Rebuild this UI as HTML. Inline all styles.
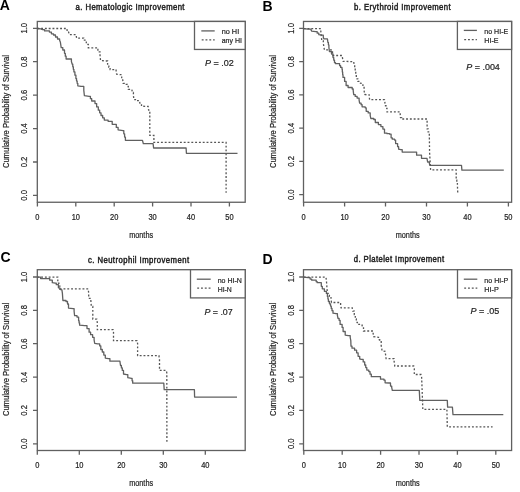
<!DOCTYPE html>
<html><head><meta charset="utf-8"><style>
html,body{margin:0;padding:0;background:#fff;width:520px;height:492px;overflow:hidden}
svg{display:block;will-change:transform}
text{font-family:"Liberation Sans",sans-serif;fill:#222;stroke:#222;stroke-width:0.2px}
.t{font-size:8.3px}
.ttl{font-size:8.4px;font-weight:normal;stroke-width:0.45px;fill:#222;stroke:#222}
.let{font-size:14px;font-weight:bold;fill:#000;stroke:none}
</style></head><body>
<svg width="520" height="492" viewBox="0 0 520 492">
<rect width="520" height="492" fill="#fff"/>
<g id="pA">
<rect x="37.3" y="21.45" width="207.9" height="180.8" fill="none" stroke="#606060" stroke-width="1.3"/>
<text class="t" transform="translate(27.2,195.40) rotate(-90) scale(0.92,1)" text-anchor="middle">0.0</text>
<text class="t" transform="translate(27.2,161.98) rotate(-90) scale(0.92,1)" text-anchor="middle">0.2</text>
<text class="t" transform="translate(27.2,128.56) rotate(-90) scale(0.92,1)" text-anchor="middle">0.4</text>
<text class="t" transform="translate(27.2,95.14) rotate(-90) scale(0.92,1)" text-anchor="middle">0.6</text>
<text class="t" transform="translate(27.2,61.72) rotate(-90) scale(0.92,1)" text-anchor="middle">0.8</text>
<text class="t" transform="translate(27.2,28.30) rotate(-90) scale(0.92,1)" text-anchor="middle">1.0</text>
<text class="t" transform="translate(37.40,219.8) scale(0.9,1)" text-anchor="middle">0</text>
<text class="t" transform="translate(75.80,219.8) scale(0.9,1)" text-anchor="middle">10</text>
<text class="t" transform="translate(114.20,219.8) scale(0.9,1)" text-anchor="middle">20</text>
<text class="t" transform="translate(152.60,219.8) scale(0.9,1)" text-anchor="middle">30</text>
<text class="t" transform="translate(191.00,219.8) scale(0.9,1)" text-anchor="middle">40</text>
<text class="t" transform="translate(229.40,219.8) scale(0.9,1)" text-anchor="middle">50</text>
<path d="M33.0,195.4H37.3M33.0,162.0H37.3M33.0,128.6H37.3M33.0,95.1H37.3M33.0,61.7H37.3M33.0,28.3H37.3M37.4,202.2V206.5M75.8,202.2V206.5M114.2,202.2V206.5M152.6,202.2V206.5M191.0,202.2V206.5M229.4,202.2V206.5" stroke="#606060" stroke-width="1.3" fill="none"/>
<text class="t" x="141.15" y="237.8" text-anchor="middle" textLength="23.9" lengthAdjust="spacingAndGlyphs" style="font-size:8.8px">months</text>
<text transform="translate(8.9,111.6) rotate(-90)" text-anchor="middle" textLength="113.0" lengthAdjust="spacingAndGlyphs" style="font-size:8.3px">Cumulative Probability of Survival</text>
<rect x="194.5" y="21.45" width="50.7" height="28.0" fill="#fff" stroke="#606060" stroke-width="1.3"/>
<path d="M201.3,30.9H214.7" stroke="#606060" stroke-width="1.3"/>
<path d="M201.7,39.9H214.7" stroke="#555" stroke-width="1.3" stroke-dasharray="1.9,1.9"/>
<text class="t" x="221.7" y="33.9" textLength="17.5" lengthAdjust="spacingAndGlyphs" style="font-size:8.1px">no HI</text>
<text class="t" x="221.7" y="43.2" textLength="20.2" lengthAdjust="spacingAndGlyphs" style="font-size:8.1px">any HI</text>
<text x="205.1" y="65.6" textLength="28.8" lengthAdjust="spacingAndGlyphs" style="font-size:9px"><tspan font-style="italic">P</tspan> = .02</text>
<text class="ttl" transform="translate(75.6,9.6) scale(0.92,1)" textLength="118.4" lengthAdjust="spacing">a. Hematologic Improvement</text>
<text class="let" x="-0.2" y="9.55">A</text>
<polyline points="37.30,28.50 40.90,28.90 42.50,29.70 44.50,29.70 44.50,30.90 47.80,30.90 49.40,30.90 49.40,32.10 51.40,32.10 51.40,33.80 53.50,33.80 53.50,35.00 55.50,35.00 55.50,37.00 57.50,37.00 57.50,39.00 59.60,39.00 59.60,40.30 60.40,42.30 61.20,47.60 62.80,47.60 62.80,50.00 64.50,50.00 64.50,53.30 65.30,53.30 65.30,56.15 66.10,56.15 66.10,59.00 70.10,59.00 71.40,59.00 71.40,61.40 72.20,64.20 72.77,64.20 72.77,66.77 73.33,66.77 73.33,69.33 73.90,69.33 73.90,71.90 74.90,71.90 74.90,75.20 75.90,75.20 75.90,78.50 76.53,78.50 76.53,80.93 77.17,80.93 77.17,83.37 77.80,83.37 77.80,85.80 81.10,86.40 83.80,86.40 83.80,90.40 84.40,95.70 89.10,96.30 90.40,96.30 90.40,98.65 91.70,98.65 91.70,101.00 95.00,101.00 95.00,103.60 96.65,103.60 96.65,106.90 98.30,106.90 98.30,110.20 99.65,110.20 99.65,112.85 101.00,112.85 101.00,115.50 102.65,115.50 102.65,117.80 104.30,117.80 104.30,120.10 108.10,120.10 108.10,121.30 112.20,121.30 112.20,124.30 116.30,124.30 116.30,127.40 118.10,127.40 118.10,129.80 123.00,130.60 123.80,130.60 123.80,133.83 124.60,133.83 124.60,137.07 125.40,137.07 125.40,140.30 142.50,140.30 143.30,143.60 153.10,143.60 153.60,148.00 186.10,148.00 186.40,153.30 237.50,153.30" fill="none" stroke="#606060" stroke-width="1.3" stroke-linejoin="round"/>
<polyline points="37.30,28.50 65.30,28.50 66.90,28.50 66.90,30.10 68.50,30.10 68.50,31.70 69.30,34.60 76.10,34.60 76.60,38.20 82.70,38.20 83.70,38.20 83.70,40.20 86.30,40.20 86.30,44.30 88.30,44.30 88.30,47.80 96.90,47.80 97.90,47.80 97.90,51.90 100.00,51.90 100.00,54.90 100.50,60.50 106.60,61.00 107.60,61.00 107.60,65.10 108.85,65.10 108.85,67.35 110.10,67.35 110.10,69.60 114.60,69.60 116.10,69.60 116.10,71.10 116.60,74.10 120.70,74.70 121.70,74.70 121.70,77.70 122.70,77.70 122.70,79.70 123.20,83.30 126.30,83.30 126.30,84.30 127.30,84.30 127.30,86.30 128.30,86.30 128.30,89.40 131.80,89.40 132.40,92.40 133.40,92.40 133.40,95.50 133.90,99.60 136.40,99.60 136.40,100.60 139.50,100.60 140.00,104.10 141.50,104.10 141.50,106.20 148.10,106.40 148.60,110.20 149.80,110.20 149.80,112.80 149.80,135.40 153.90,135.40 153.90,142.40 226.10,142.40 226.10,192.80" fill="none" stroke="#555" stroke-width="1.3" stroke-dasharray="1.9,1.9"/>
</g>
<g id="pB">
<rect x="303.5" y="21.45" width="208.1" height="180.8" fill="none" stroke="#606060" stroke-width="1.3"/>
<text class="t" transform="translate(293.6,194.70) rotate(-90) scale(0.92,1)" text-anchor="middle">0.0</text>
<text class="t" transform="translate(293.6,161.44) rotate(-90) scale(0.92,1)" text-anchor="middle">0.2</text>
<text class="t" transform="translate(293.6,128.18) rotate(-90) scale(0.92,1)" text-anchor="middle">0.4</text>
<text class="t" transform="translate(293.6,94.92) rotate(-90) scale(0.92,1)" text-anchor="middle">0.6</text>
<text class="t" transform="translate(293.6,61.66) rotate(-90) scale(0.92,1)" text-anchor="middle">0.8</text>
<text class="t" transform="translate(293.6,28.40) rotate(-90) scale(0.92,1)" text-anchor="middle">1.0</text>
<text class="t" transform="translate(303.60,219.7) scale(0.9,1)" text-anchor="middle">0</text>
<text class="t" transform="translate(344.55,219.7) scale(0.9,1)" text-anchor="middle">10</text>
<text class="t" transform="translate(385.50,219.7) scale(0.9,1)" text-anchor="middle">20</text>
<text class="t" transform="translate(426.45,219.7) scale(0.9,1)" text-anchor="middle">30</text>
<text class="t" transform="translate(467.40,219.7) scale(0.9,1)" text-anchor="middle">40</text>
<text class="t" transform="translate(508.35,219.7) scale(0.9,1)" text-anchor="middle">50</text>
<path d="M299.2,194.7H303.5M299.2,161.4H303.5M299.2,128.2H303.5M299.2,94.9H303.5M299.2,61.7H303.5M299.2,28.4H303.5M303.6,202.2V206.5M344.6,202.2V206.5M385.5,202.2V206.5M426.5,202.2V206.5M467.4,202.2V206.5M508.4,202.2V206.5" stroke="#606060" stroke-width="1.3" fill="none"/>
<text class="t" x="407.7" y="237.6" text-anchor="middle" textLength="23.9" lengthAdjust="spacingAndGlyphs" style="font-size:8.8px">months</text>
<text transform="translate(275.9,111.6) rotate(-90)" text-anchor="middle" textLength="113.0" lengthAdjust="spacingAndGlyphs" style="font-size:8.3px">Cumulative Probability of Survival</text>
<rect x="457.4" y="21.45" width="54.2" height="28.0" fill="#fff" stroke="#606060" stroke-width="1.3"/>
<path d="M463.8,30.4H476.9" stroke="#606060" stroke-width="1.3"/>
<path d="M464.2,39.6H476.9" stroke="#555" stroke-width="1.3" stroke-dasharray="1.9,1.9"/>
<text class="t" x="484.3" y="33.6" textLength="23.9" lengthAdjust="spacingAndGlyphs" style="font-size:8.1px">no HI-E</text>
<text class="t" x="484.3" y="42.8" textLength="14.2" lengthAdjust="spacingAndGlyphs" style="font-size:8.1px">HI-E</text>
<text x="466.25" y="70.4" textLength="33.6" lengthAdjust="spacingAndGlyphs" style="font-size:9px"><tspan font-style="italic">P</tspan> = .004</text>
<text class="ttl" transform="translate(354.1,9.6) scale(0.92,1)" textLength="104.9" lengthAdjust="spacing">b. Erythroid Improvement</text>
<text class="let" x="262.5" y="11.0">B</text>
<polyline points="303.70,28.60 308.10,29.10 311.10,29.10 311.10,30.10 311.70,31.10 315.70,31.70 317.20,31.70 317.20,33.20 318.80,33.20 318.80,34.70 321.80,35.20 323.30,35.20 323.30,37.20 323.80,38.80 327.40,38.80 327.90,42.30 328.40,42.30 328.40,44.85 328.90,44.85 328.90,47.40 329.40,51.50 331.50,51.50 331.50,54.00 333.00,54.00 333.00,57.60 333.75,57.60 333.75,60.15 334.50,60.15 334.50,62.70 335.50,62.70 335.50,63.70 338.60,63.70 339.60,63.70 339.60,65.70 340.60,65.70 340.60,67.40 342.00,67.40 342.00,69.20 342.33,69.20 342.33,71.93 342.67,71.93 342.67,74.67 343.00,74.67 343.00,77.40 344.60,77.40 344.60,81.40 346.10,81.40 346.10,85.50 348.10,85.50 348.10,87.50 350.20,87.50 352.20,87.50 352.20,89.00 353.20,89.00 353.20,90.60 353.70,94.60 355.20,94.60 355.20,96.40 357.10,96.40 357.10,98.10 359.10,98.10 359.10,100.20 359.60,103.20 361.10,103.20 361.10,104.70 362.10,104.70 362.10,106.80 365.20,106.80 365.20,107.80 366.20,107.80 366.20,111.30 368.20,111.30 368.20,112.90 370.20,112.90 370.20,115.40 370.80,118.50 373.80,118.50 373.80,119.50 375.30,119.50 375.30,122.50 378.40,122.50 378.40,124.60 380.90,124.60 380.90,126.60 382.90,126.60 382.90,129.10 384.50,129.10 384.50,133.20 387.05,133.20 387.05,133.70 389.60,133.70 389.60,134.20 391.10,134.20 391.10,137.80 392.30,137.80 392.30,139.20 394.60,139.20 394.60,140.10 395.60,140.10 395.60,143.60 397.60,143.60 397.60,146.70 398.60,146.70 398.60,149.20 400.70,149.70 402.20,149.70 402.20,152.10 416.60,152.10 416.60,155.20 421.50,155.20 421.50,158.30 427.00,158.30 427.60,162.00 429.40,162.00 429.40,163.80 430.00,165.40 461.50,165.40 461.90,170.10 503.80,170.10" fill="none" stroke="#606060" stroke-width="1.3" stroke-linejoin="round"/>
<polyline points="303.70,28.60 319.80,28.60 320.80,28.60 320.80,31.10 321.30,36.20 321.80,40.80 323.30,40.80 323.30,43.30 323.80,46.40 324.40,49.90 331.50,49.90 332.50,49.90 332.50,52.50 333.00,55.50 342.10,55.50 342.60,58.60 343.20,61.40 353.70,61.60 354.20,65.20 354.70,65.20 354.70,68.25 355.20,68.25 355.20,71.30 355.75,71.30 355.75,73.80 356.30,73.80 356.30,76.30 357.05,76.30 357.05,78.85 357.80,78.85 357.80,81.40 358.80,81.40 358.80,82.90 361.80,83.50 362.90,83.50 362.90,87.50 364.10,87.50 364.10,90.50 364.60,94.40 366.70,94.80 369.20,94.80 369.20,96.10 369.60,99.70 384.50,99.70 385.00,103.20 385.50,103.20 385.50,105.75 386.00,105.75 386.00,108.30 387.00,108.30 387.00,111.90 398.70,111.90 400.20,111.90 400.20,114.20 400.50,117.60 401.70,117.60 401.70,119.00 426.10,119.00 427.10,119.00 427.10,121.80 427.10,128.90 428.10,128.90 428.10,131.90 429.30,131.90 429.30,134.50 429.60,152.80 430.40,166.20 430.60,169.90 455.00,169.90 456.20,169.90 456.20,172.30 456.20,180.20 456.80,180.20 456.80,182.65 457.40,182.65 457.40,185.10 457.80,193.60" fill="none" stroke="#555" stroke-width="1.3" stroke-dasharray="1.9,1.9"/>
</g>
<g id="pC">
<rect x="37.3" y="269.7" width="207.9" height="180.8" fill="none" stroke="#606060" stroke-width="1.3"/>
<text class="t" transform="translate(27.2,443.80) rotate(-90) scale(0.92,1)" text-anchor="middle">0.0</text>
<text class="t" transform="translate(27.2,410.44) rotate(-90) scale(0.92,1)" text-anchor="middle">0.2</text>
<text class="t" transform="translate(27.2,377.08) rotate(-90) scale(0.92,1)" text-anchor="middle">0.4</text>
<text class="t" transform="translate(27.2,343.72) rotate(-90) scale(0.92,1)" text-anchor="middle">0.6</text>
<text class="t" transform="translate(27.2,310.36) rotate(-90) scale(0.92,1)" text-anchor="middle">0.8</text>
<text class="t" transform="translate(27.2,277.00) rotate(-90) scale(0.92,1)" text-anchor="middle">1.0</text>
<text class="t" transform="translate(37.30,467.9) scale(0.9,1)" text-anchor="middle">0</text>
<text class="t" transform="translate(79.30,467.9) scale(0.9,1)" text-anchor="middle">10</text>
<text class="t" transform="translate(121.30,467.9) scale(0.9,1)" text-anchor="middle">20</text>
<text class="t" transform="translate(163.30,467.9) scale(0.9,1)" text-anchor="middle">30</text>
<text class="t" transform="translate(205.30,467.9) scale(0.9,1)" text-anchor="middle">40</text>
<path d="M33.0,443.8H37.3M33.0,410.4H37.3M33.0,377.1H37.3M33.0,343.7H37.3M33.0,310.4H37.3M33.0,277.0H37.3M37.3,450.5V454.8M79.3,450.5V454.8M121.3,450.5V454.8M163.3,450.5V454.8M205.3,450.5V454.8" stroke="#606060" stroke-width="1.3" fill="none"/>
<text class="t" x="141.15" y="486.3" text-anchor="middle" textLength="23.9" lengthAdjust="spacingAndGlyphs" style="font-size:8.8px">months</text>
<text transform="translate(8.9,359.5) rotate(-90)" text-anchor="middle" textLength="113.2" lengthAdjust="spacingAndGlyphs" style="font-size:8.3px">Cumulative Probability of Survival</text>
<rect x="190.5" y="269.7" width="54.7" height="28.2" fill="#fff" stroke="#606060" stroke-width="1.3"/>
<path d="M196.8,279.2H210.7" stroke="#606060" stroke-width="1.3"/>
<path d="M197.2,288.2H210.7" stroke="#555" stroke-width="1.3" stroke-dasharray="1.9,1.9"/>
<text class="t" x="217.7" y="282.6" textLength="24.2" lengthAdjust="spacingAndGlyphs" style="font-size:8.1px">no HI-N</text>
<text class="t" x="217.7" y="291.9" textLength="14.1" lengthAdjust="spacingAndGlyphs" style="font-size:8.1px">HI-N</text>
<text x="204.4" y="314.6" textLength="28.3" lengthAdjust="spacingAndGlyphs" style="font-size:9px"><tspan font-style="italic">P</tspan> = .07</text>
<text class="ttl" transform="translate(87.9,262.5) scale(0.92,1)" textLength="110.0" lengthAdjust="spacing">c. Neutrophil Improvement</text>
<text class="let" x="0.5" y="262.4">C</text>
<polyline points="37.30,277.10 39.60,277.10 40.60,277.10 40.60,278.60 48.70,278.60 49.70,278.60 49.70,280.20 52.30,280.20 52.30,282.70 55.30,283.20 56.30,283.20 56.30,284.70 58.40,284.70 58.40,287.80 59.90,287.80 59.90,289.30 61.90,289.80 62.40,293.40 62.90,300.50 66.00,300.50 66.00,301.50 67.50,301.50 67.50,304.00 68.50,304.00 68.50,308.10 73.10,308.60 74.10,308.60 74.10,311.20 74.60,315.70 77.00,315.70 77.00,317.10 78.60,317.10 78.60,320.70 79.10,320.70 79.10,322.95 79.60,322.95 79.60,325.20 84.70,325.70 87.00,325.70 87.00,328.60 89.10,328.60 89.10,332.20 90.60,332.20 90.60,334.70 92.60,334.70 92.60,337.30 94.10,337.30 94.10,339.80 94.70,343.40 97.70,343.90 99.70,343.90 99.70,345.90 100.80,345.90 100.80,349.50 102.30,349.50 102.30,352.00 103.80,352.00 103.80,355.10 105.30,355.10 105.30,358.10 108.40,358.60 109.90,358.60 109.90,361.20 119.90,361.20 120.50,365.50 121.40,365.50 121.40,367.95 122.30,367.95 122.30,370.40 123.50,370.40 123.50,374.00 126.60,374.60 127.80,374.60 127.80,377.70 131.50,378.30 132.10,378.30 132.10,380.75 132.70,380.75 132.70,383.20 163.80,383.20 164.20,389.60 194.40,389.60 194.60,397.10 237.00,397.10" fill="none" stroke="#606060" stroke-width="1.3" stroke-linejoin="round"/>
<polyline points="37.30,277.10 56.80,277.10 57.80,277.10 57.80,279.70 57.80,283.20 58.85,283.20 58.85,286.05 59.90,286.05 59.90,288.90 88.20,288.90 88.70,293.20 88.70,298.30 90.80,298.30 90.80,299.80 91.30,306.40 92.80,306.40 92.80,309.50 92.80,319.10 96.80,319.10 97.30,322.70 97.30,329.70 113.00,329.70 113.50,332.20 113.50,340.70 137.00,340.70 137.60,343.50 137.60,355.70 158.90,355.70 159.50,359.40 159.50,370.40 166.20,370.40 166.80,372.80 166.90,443.30" fill="none" stroke="#555" stroke-width="1.3" stroke-dasharray="1.9,1.9"/>
</g>
<g id="pD">
<rect x="303.5" y="269.7" width="208.1" height="180.8" fill="none" stroke="#606060" stroke-width="1.3"/>
<text class="t" transform="translate(293.6,443.80) rotate(-90) scale(0.92,1)" text-anchor="middle">0.0</text>
<text class="t" transform="translate(293.6,410.44) rotate(-90) scale(0.92,1)" text-anchor="middle">0.2</text>
<text class="t" transform="translate(293.6,377.08) rotate(-90) scale(0.92,1)" text-anchor="middle">0.4</text>
<text class="t" transform="translate(293.6,343.72) rotate(-90) scale(0.92,1)" text-anchor="middle">0.6</text>
<text class="t" transform="translate(293.6,310.36) rotate(-90) scale(0.92,1)" text-anchor="middle">0.8</text>
<text class="t" transform="translate(293.6,277.00) rotate(-90) scale(0.92,1)" text-anchor="middle">1.0</text>
<text class="t" transform="translate(303.80,467.9) scale(0.9,1)" text-anchor="middle">0</text>
<text class="t" transform="translate(342.20,467.9) scale(0.9,1)" text-anchor="middle">10</text>
<text class="t" transform="translate(380.60,467.9) scale(0.9,1)" text-anchor="middle">20</text>
<text class="t" transform="translate(419.00,467.9) scale(0.9,1)" text-anchor="middle">30</text>
<text class="t" transform="translate(457.40,467.9) scale(0.9,1)" text-anchor="middle">40</text>
<text class="t" transform="translate(495.80,467.9) scale(0.9,1)" text-anchor="middle">50</text>
<path d="M299.2,443.8H303.5M299.2,410.4H303.5M299.2,377.1H303.5M299.2,343.7H303.5M299.2,310.4H303.5M299.2,277.0H303.5M303.8,450.5V454.8M342.2,450.5V454.8M380.6,450.5V454.8M419.0,450.5V454.8M457.4,450.5V454.8M495.8,450.5V454.8" stroke="#606060" stroke-width="1.3" fill="none"/>
<text class="t" x="407.7" y="486.2" text-anchor="middle" textLength="23.9" lengthAdjust="spacingAndGlyphs" style="font-size:8.8px">months</text>
<text transform="translate(275.9,359.5) rotate(-90)" text-anchor="middle" textLength="113.2" lengthAdjust="spacingAndGlyphs" style="font-size:8.3px">Cumulative Probability of Survival</text>
<rect x="457.5" y="269.7" width="54.1" height="28.2" fill="#fff" stroke="#606060" stroke-width="1.3"/>
<path d="M463.8,279.2H477.3" stroke="#606060" stroke-width="1.3"/>
<path d="M464.2,288.2H477.3" stroke="#555" stroke-width="1.3" stroke-dasharray="1.9,1.9"/>
<text class="t" x="484.3" y="282.6" textLength="24.0" lengthAdjust="spacingAndGlyphs" style="font-size:8.1px">no HI-P</text>
<text class="t" x="484.3" y="291.9" textLength="14.5" lengthAdjust="spacingAndGlyphs" style="font-size:8.1px">HI-P</text>
<text x="470.6" y="313.9" textLength="28.8" lengthAdjust="spacingAndGlyphs" style="font-size:9px"><tspan font-style="italic">P</tspan> = .05</text>
<text class="ttl" transform="translate(353.8,262.4) scale(0.92,1)" textLength="98.2" lengthAdjust="spacing">d. Platelet Improvement</text>
<text class="let" x="262.5" y="263.9">D</text>
<polyline points="303.80,277.10 308.10,277.60 310.10,277.60 310.10,279.10 311.70,279.10 311.70,280.20 314.70,280.20 316.20,280.20 316.20,281.70 317.20,281.70 317.20,282.70 320.30,282.70 321.30,282.70 321.30,286.30 322.30,286.30 322.30,288.80 324.40,288.80 324.40,291.30 326.40,291.30 326.40,293.40 327.40,293.40 327.40,296.40 327.90,296.40 327.90,298.95 328.40,298.95 328.40,301.50 329.45,301.50 329.45,303.80 330.50,303.80 330.50,306.10 331.25,306.10 331.25,308.40 332.00,308.40 332.00,310.70 333.00,310.70 333.00,313.20 336.00,313.70 337.40,313.70 337.40,315.50 338.00,318.30 339.10,318.30 339.10,320.30 340.10,320.30 340.10,324.40 342.10,324.40 342.10,327.40 343.10,327.40 343.10,331.50 345.20,331.50 345.20,335.10 348.20,335.60 350.20,335.60 350.20,337.40 350.80,340.70 351.00,346.20 352.00,346.20 352.00,348.20 354.60,348.20 354.60,350.20 356.60,350.20 356.60,352.80 358.10,352.80 358.10,356.30 359.70,356.30 359.70,358.90 361.20,359.40 363.20,359.40 363.20,361.90 364.70,361.90 364.70,365.00 365.75,365.00 365.75,367.55 366.80,367.55 366.80,370.10 368.80,370.10 368.80,371.60 370.05,371.60 370.05,374.15 371.30,374.15 371.30,376.70 379.50,376.70 380.50,376.70 380.50,379.20 384.00,379.20 384.00,380.20 385.10,380.20 385.10,382.80 389.30,383.00 390.50,383.00 390.50,386.10 391.70,386.10 391.70,387.30 392.30,390.40 419.30,390.40 419.80,400.40 447.30,400.40 447.60,407.10 452.40,407.10 453.00,414.60 503.30,414.60" fill="none" stroke="#606060" stroke-width="1.3" stroke-linejoin="round"/>
<polyline points="303.80,277.10 325.90,277.10 326.40,280.20 326.90,287.30 327.40,293.40 329.40,293.40 329.40,296.40 331.00,296.40 331.00,299.00 331.50,302.50 339.60,302.50 340.60,302.50 340.60,305.10 341.10,307.80 352.30,307.90 352.80,311.20 354.30,311.20 354.30,314.70 355.30,314.70 355.30,318.80 356.30,318.80 356.30,322.40 357.40,322.40 357.40,324.40 361.90,324.40 362.40,326.90 363.50,326.90 363.50,331.00 372.10,331.00 373.10,331.00 373.10,333.00 373.60,336.60 378.70,337.40 379.20,337.40 379.20,339.55 379.70,339.55 379.70,341.70 381.20,341.70 381.20,345.70 381.70,347.80 382.00,350.80 385.10,351.30 385.60,354.80 386.10,358.60 392.90,358.70 394.10,358.70 394.10,361.10 394.80,366.00 413.70,366.00 414.30,368.40 414.30,374.50 421.00,374.50 421.60,377.00 422.20,391.60 422.80,409.30 446.90,409.30 447.30,426.80 492.60,426.80" fill="none" stroke="#555" stroke-width="1.3" stroke-dasharray="1.9,1.9"/>
</g>
</svg>
</body></html>
